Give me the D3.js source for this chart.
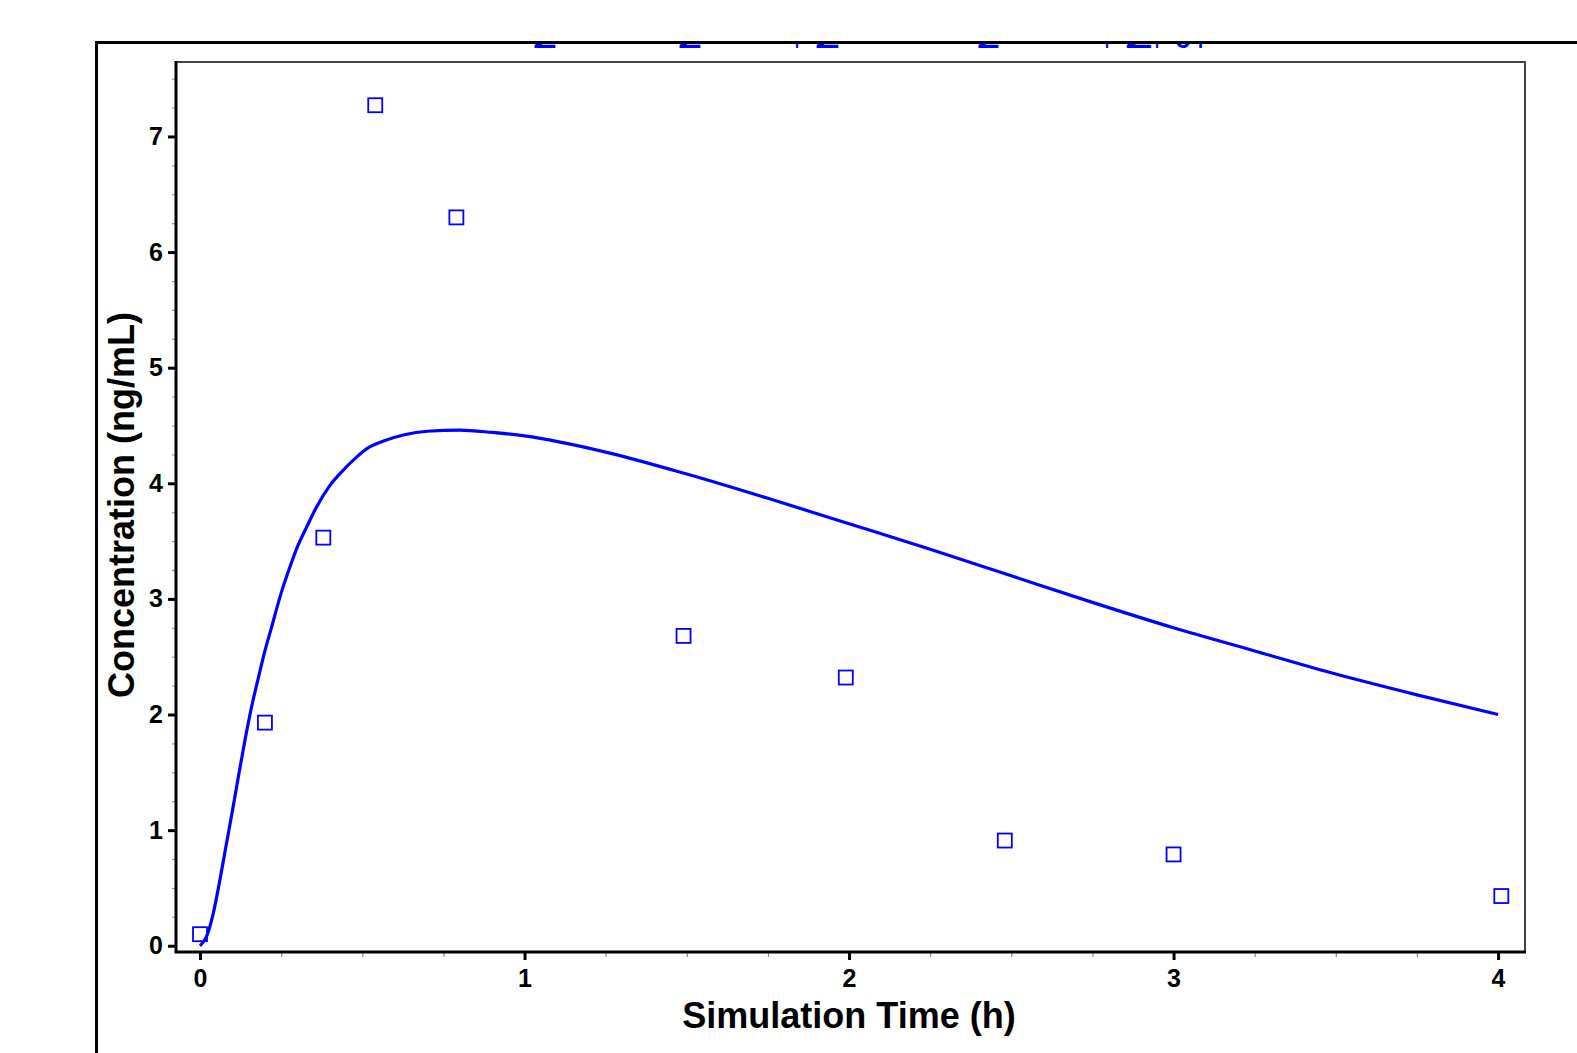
<!DOCTYPE html>
<html>
<head>
<meta charset="utf-8">
<script src="https://cdn.jsdelivr.net/npm/d3@7"></script>
<style>
  body { margin: 0; background: #fff; }
  svg { display: block; }
  .tick text { font-family: "Liberation Sans", Arial, sans-serif; font-weight: bold; font-size: 25px; fill: #000; }
  .axis-label { font-family: "Liberation Sans", Arial, sans-serif; font-weight: bold; font-size: 36px; fill: #000; }
  .legend { font-family: "Liberation Sans", Arial, sans-serif; font-weight: bold; font-size: 30px; fill: #0000ff; }
</style>
</head>
<body>
<svg width="1577" height="1053"></svg>
<script>
// observed points
const obsTime = [0, 0.2, 0.38, 0.54, 0.79, 1.49, 1.99, 2.48, 3.0, 4.01];
const obsConc = [0.10, 1.93, 3.53, 7.27, 6.30, 2.68, 2.32, 0.91, 0.79, 0.43];

// simulated curve
const simTime = [0, 0.02, 0.04, 0.06, 0.08, 0.10, 0.12, 0.14, 0.16, 0.18, 0.20, 0.22, 0.25, 0.28, 0.30,
  0.33, 0.36, 0.40, 0.44, 0.48, 0.52, 0.57, 0.63, 0.70, 0.80, 0.90, 1.0, 1.25, 1.5, 1.75, 2.0,
  2.25, 2.5, 2.75, 3.0, 3.25, 3.5, 3.75, 4.0];
const simConc = [0, 0.08, 0.27, 0.55, 0.86, 1.17, 1.49, 1.80, 2.08, 2.32, 2.55, 2.75, 3.05, 3.30, 3.45,
  3.63, 3.80, 3.98, 4.11, 4.22, 4.31, 4.37, 4.42, 4.45, 4.46, 4.44, 4.41, 4.27, 4.08, 3.87, 3.65,
  3.43, 3.20, 2.97, 2.75, 2.55, 2.35, 2.17, 2.0];

const xTicks = [0, 1, 2, 3, 4];
const yTicks = [0, 1, 2, 3, 4, 5, 6, 7];
const xAxisLabel = 'Simulation Time (h)';
const yAxisLabel = 'Concentration (ng/mL)';
// legend text, cut off by the frame (only glyph bottoms show)
const legendBits = ['2', '2', 'I', '2', '2', 'I', '2', 'I', 'o', 'I'];

function whenLoaded(){

    const svg = d3.select('svg');
    const box = {left: 176, right: 1525, top: 62, bottom: 952};

    const xScale = d3.scaleLinear()
    .domain([-0.074, 4.083])
    .range([box.left, box.right]);

    const yScale = d3.scaleLinear()
    .domain([-0.054, 7.644])
    .range([box.bottom, box.top]);

    // legend: only the bottom of the glyphs peeks under the frame
    const legendX = [[533, 24], [678, 24], [795, 4], [815, 25], [977, 23], [1105, 4], [1125, 28], [1155, 4], [1175, 16], [1198, 5]];
    const leg = svg.append('text').attr('class', 'legend');
    legendBits.forEach((s, i) => {
        leg.append('tspan')
        .attr('x', legendX[i][0])
        .attr('y', 47.5)
        .attr('textLength', legendX[i][1])
        .attr('lengthAdjust', 'spacingAndGlyphs')
        .text(s);
    });
    // page edge above the frame hides the rest of the legend
    svg.append('rect')
    .attr('x', 0).attr('y', 0)
    .attr('width', 1577).attr('height', 43.5)
    .attr('fill', '#fff');

    // outer frame
    svg.append('path')
    .attr('d', 'M96.5,1053 V42.5 H1577')
    .attr('fill', 'none')
    .attr('stroke', '#000')
    .attr('stroke-width', 3);

    // plot box top / right
    svg.append('path')
    .attr('d', `M${box.left},${box.top} H${box.right} V${box.bottom}`)
    .attr('fill', 'none')
    .attr('stroke', '#444')
    .attr('stroke-width', 2);

    // minor ticks
    const xMinor = d3.range(0, 4.01, 0.25).filter(v => v % 1 !== 0);
    const yMinor = d3.range(0, 7.6, 0.25).filter(v => v % 1 !== 0);

    const xMinorG = svg.append('g')
    .attr('transform', `translate(0,${box.bottom})`)
    .call(d3.axisBottom(xScale).tickValues(xMinor).tickSize(5).tickFormat(''));
    xMinorG.select('.domain').remove();
    xMinorG.selectAll('line').attr('stroke', '#888').attr('stroke-width', 1.2);

    const yMinorG = svg.append('g')
    .attr('transform', `translate(${box.left},0)`)
    .call(d3.axisLeft(yScale).tickValues(yMinor).tickSize(4).tickFormat(''));
    yMinorG.select('.domain').remove();
    yMinorG.selectAll('line').attr('stroke', '#999').attr('stroke-width', 1.2);

    // major axes
    const xAxisG = svg.append('g')
    .attr('transform', `translate(0,${box.bottom})`)
    .call(d3.axisBottom(xScale).tickValues(xTicks).tickSize(8).tickPadding(9).tickFormat(d3.format('d')));
    xAxisG.select('.domain').remove();
    xAxisG.selectAll('line').attr('stroke', '#000').attr('stroke-width', 3);

    const yAxisG = svg.append('g')
    .attr('transform', `translate(${box.left},0)`)
    .call(d3.axisLeft(yScale).tickValues(yTicks).tickSize(8).tickPadding(5).tickFormat(d3.format('d')));
    yAxisG.select('.domain').remove();
    yAxisG.selectAll('line').attr('stroke', '#000').attr('stroke-width', 3);

    // axis lines
    svg.append('path')
    .attr('d', `M${box.left},${box.top - 1} V${box.bottom} H${box.right + 1}`)
    .attr('fill', 'none')
    .attr('stroke', '#000')
    .attr('stroke-width', 3);

    // simulated line
    const simData = simTime.map((t, i) => ({t, c: simConc[i]}));
    const lineGenerator = d3.line()
    .x(d => xScale(d.t))
    .y(d => yScale(d.c))
    .curve(d3.curveMonotoneX);

    svg.append('path')
    .attr('d', lineGenerator(simData))
    .attr('fill', 'none')
    .attr('stroke', '#0000ff')
    .attr('stroke-width', 3.2);

    // observed squares
    const obsData = obsTime.map((t, i) => ({t, c: obsConc[i]}));
    const sq = 14;
    svg.selectAll('rect.obs').data(obsData)
    .enter()
    .append('rect')
    .attr('class', 'obs')
    .attr('x', d => xScale(d.t) - sq / 2)
    .attr('y', d => yScale(d.c) - sq / 2)
    .attr('width', sq)
    .attr('height', sq)
    .attr('fill', 'none')
    .attr('stroke', '#0000ff')
    .attr('stroke-width', 1.8);

    // axis titles
    svg.append('text')
    .attr('class', 'axis-label')
    .attr('x', 849)
    .attr('y', 1028)
    .style('text-anchor', 'middle')
    .text(xAxisLabel);

    svg.append('text')
    .attr('class', 'axis-label')
    .attr('transform', 'translate(134,505) rotate(-90)')
    .style('text-anchor', 'middle')
    .text(yAxisLabel);
}

window.onload = whenLoaded;
</script>
</body>
</html>
